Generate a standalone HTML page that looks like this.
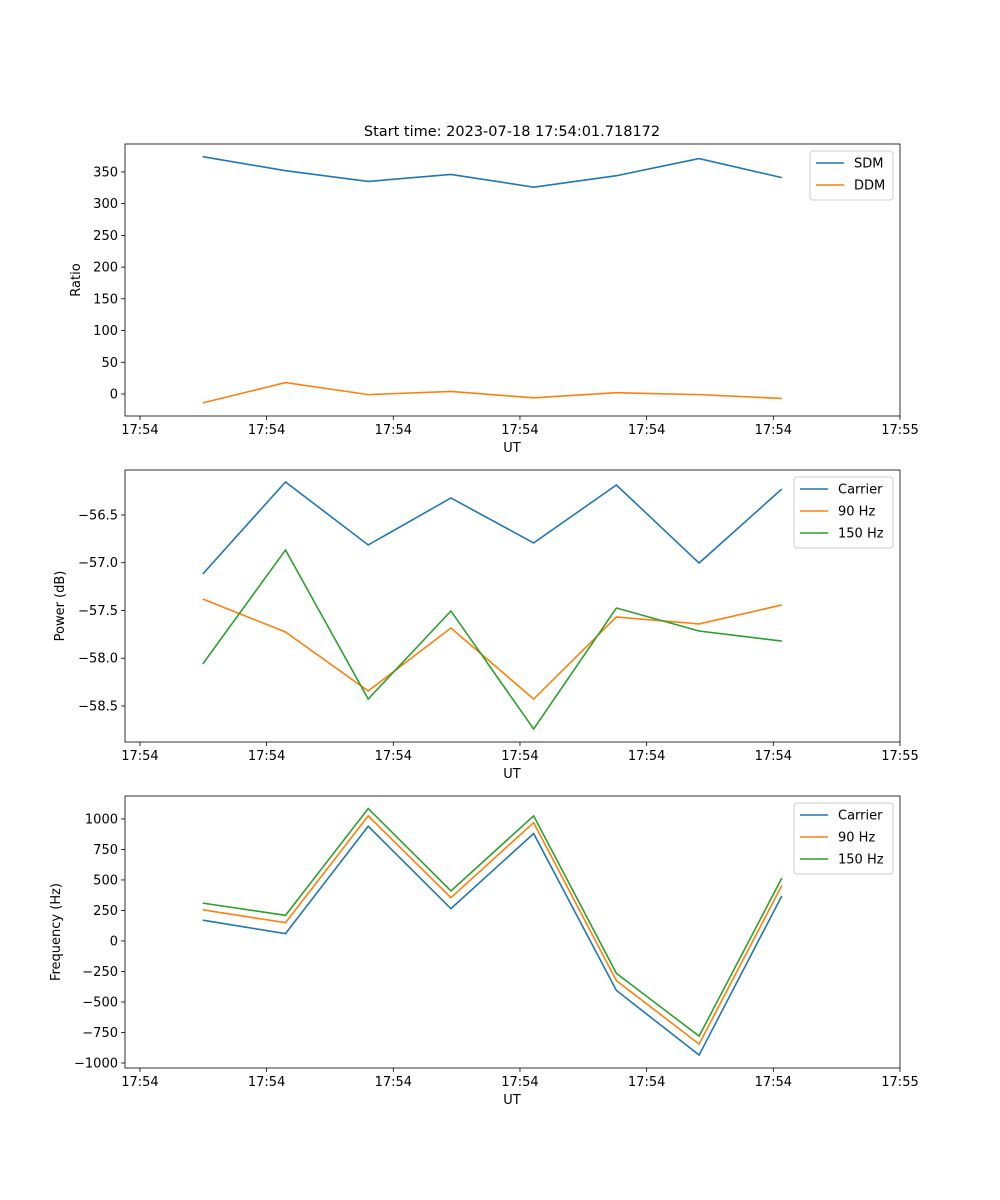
<!DOCTYPE html>
<html><head><meta charset="utf-8"><style>
body{margin:0;background:#fff}
svg{display:block;font-family:"DejaVu Sans","Liberation Sans",sans-serif}
</style></head><body>
<svg id="fig" width="1000" height="1200" viewBox="0 0 1000 1200">
<rect width="1000" height="1200" fill="#fff"/>
<text x="512" y="136" font-size="14.5" text-anchor="middle">Start time: 2023-07-18 17:54:01.718172</text>
</svg>
<script>
const times=[0.496,1.149,1.802,2.455,3.108,3.761,4.414,5.067];
const xTickVals=[0,1,2,3,4,5,6];
const xTickLabels=["17:54","17:54","17:54","17:54","17:54","17:54","17:55"];
const sdm=[374,352,335,346,326,344,371,341];
const ddm=[-14,18,-1,4,-6,2,-1,-7];
const pwrCarrier=[-57.118,-56.154,-56.814,-56.322,-56.793,-56.186,-57.003,-56.228];
const pwr90=[-57.38,-57.725,-58.343,-57.683,-58.427,-57.568,-57.641,-57.442];
const pwr150=[-58.06,-56.866,-58.427,-57.505,-58.741,-57.474,-57.715,-57.82];
const frqCarrier=[170,60,940,265,880,-405,-935,370];
const frq90=[255,150,1025,355,970,-325,-845,455];
const frq150=[310,210,1085,410,1025,-265,-780,515];
const ratioTicks=[0,50,100,150,200,250,300,350];
const pwrTicks=[-58.5,-58.0,-57.5,-57.0,-56.5];
const frqTicks=[-1000,-750,-500,-250,0,250,500,750,1000];

const NS="http://www.w3.org/2000/svg";
const svg=document.getElementById('fig');
function mk(tag,attrs,parent){const e=document.createElementNS(NS,tag);for(const k in attrs)e.setAttribute(k,attrs[k]);(parent||svg).appendChild(e);return e;}
const L=125,R=900,X0=-0.118,X1=6.0;
function xs(t){return L+(t-X0)/(X1-X0)*(R-L);}
const C=['#1f77b4','#ff7f0e','#2ca02c'];

function panel(id,top,bot,y0,y1,yticks,fmt,ylabel,ylabelX,series,names,legend){
  const g=mk('g',{});
  
  
  const ys=v=>bot-(v-y0)/(y1-y0)*(bot-top);
  xTickVals.forEach((t,i)=>{const x=xs(t);
    mk('line',{x1:x,x2:x,y1:bot,y2:bot+4,stroke:'#000','stroke-width':0.8},g);
    const tx=mk('text',{x:x,y:bot+18,'font-size':13,'text-anchor':'middle'},g);tx.textContent=xTickLabels[i];
    
    });
  yticks.forEach(v=>{const y=ys(v);
    mk('line',{x1:L-4,x2:L,y1:y,y2:y,stroke:'#000','stroke-width':0.8},g);
    const tx=mk('text',{x:L-7,y:y+4.5,'font-size':13,'text-anchor':'end'},g);tx.textContent=fmt(v);
    
    });
  const xl=mk('text',{x:512,y:bot+36,'font-size':13,'text-anchor':'middle'},g);xl.textContent='UT';
  
  
  const cy=(top+bot)/2;
  const yl=mk('text',{x:ylabelX,y:cy,'font-size':13,'text-anchor':'middle',transform:`rotate(-90 ${ylabelX} ${cy})`},g);yl.textContent=ylabel;
  
  
  series.forEach((s,k)=>{
    const p=mk('polyline',{points:s.map((v,i)=>xs(times[i])+','+ys(v)).join(' '),fill:'none',stroke:C[k],'stroke-width':1.6},g);
    
    
  });
  mk('rect',{x:L,y:top,width:R-L,height:bot-top,fill:'none',stroke:'#000','stroke-width':0.8},g);
  const lg=mk('g',{},g);
  
  
  mk('rect',{x:legend[0],y:top+7,width:R-7-legend[0],height:names.length*22+5,fill:'#fff',stroke:'#ccc',rx:3},lg);
  names.forEach((n,k)=>{const y=top+19+k*22;
    mk('line',{x1:legend[0]+6,x2:legend[0]+34,y1:y,y2:y,stroke:C[k],'stroke-width':1.6},lg);
    const t=mk('text',{x:legend[0]+44,y:y+4.5,'font-size':13},lg);t.textContent=n;
    
    });
}
panel('ratio',144,416,-34.7,394,ratioTicks,v=>String(v),'Ratio',80,[sdm,ddm],['SDM','DDM'],[810]);
panel('power',470,742,-58.877,-56.029,pwrTicks,v=>v.toFixed(1).replace('-','−'),'Power (dB)',64,[pwrCarrier,pwr90,pwr150],['Carrier','90 Hz','150 Hz'],[794]);
panel('frequency',796,1068,-1041,1188,frqTicks,v=>String(v).replace('-','−'),'Frequency (Hz)',60,[frqCarrier,frq90,frq150],['Carrier','90 Hz','150 Hz'],[794]);
</script>
</body></html>
